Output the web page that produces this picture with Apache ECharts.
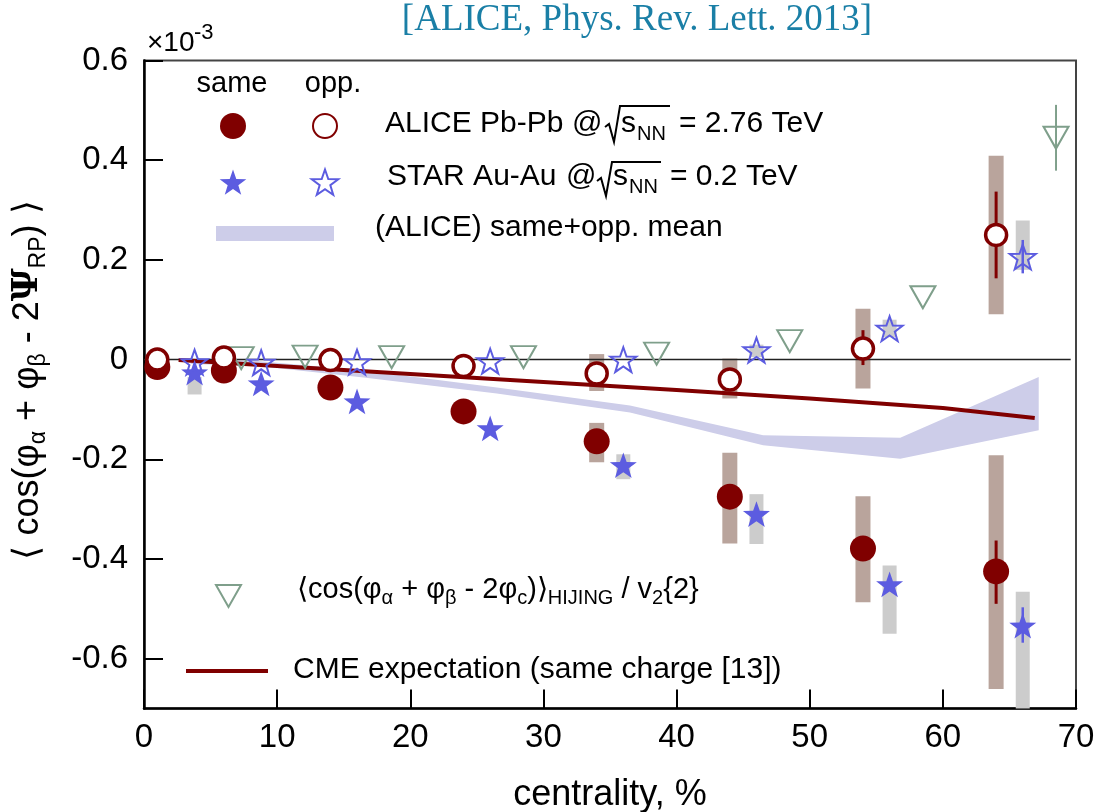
<!DOCTYPE html>
<html><head><meta charset="utf-8">
<script src="https://cdn.jsdelivr.net/npm/echarts@6/dist/echarts.min.js"></script>
<style>html,body{margin:0;padding:0;background:#fff}#c{width:1102px;height:812px}</style>
</head><body><div id="c"></div><script>
// ---------------- data ----------------
const aliceX    = [1, 6, 14, 24, 34, 44, 54, 64];
const aliceSame = [-0.015, -0.022, -0.056, -0.104, -0.164, -0.275, -0.379, -0.425];
const aliceOpp  = [0.000, 0.004, -0.001, -0.013, -0.028, -0.040, 0.022, 0.250];
const starX     = [3.8, 8.8, 16, 26, 36, 46, 56, 66];
const starSame  = [-0.026, -0.048, -0.084, -0.138, -0.212, -0.310, -0.451, -0.534];
const starOpp   = [-0.005, -0.006, -0.005, -0.003, 0.000, 0.019, 0.062, 0.206];
const hijingX   = [7.3, 12.1, 18.6, 28.5, 38.5, 48.5, 58.5, 68.5];
const hijingY   = [0.003, 0.006, 0.005, 0.005, 0.012, 0.037, 0.125, 0.445];
// systematic boxes: [x, low, high]
const aliceSameSys = [[34,-0.206,-0.127],[44,-0.369,-0.187],[54,-0.487,-0.274],[64,-0.661,-0.192]];
const aliceOppSys  = [[34,-0.063,0.011],[44,-0.078,0.002],[54,-0.058,0.102],[64,0.091,0.409]];
const starSameSys  = [[3.8,-0.070,-0.035],[36,-0.240,-0.190],[46,-0.370,-0.270],[56,-0.550,-0.413],[66,-0.740,-0.466]];
const starOppSys   = [[46,0.005,0.030],[56,0.045,0.080],[66,0.180,0.279]];
// statistical error bars: [x, low, high]
const aliceStat  = [[54,-0.011,0.059],[64,0.163,0.337],[64,-0.490,-0.363]];
const starStat   = [[66,-0.568,-0.497],[66,0.173,0.240]];
const hijingStat = [[68.5,0.379,0.511]];
// same+opp mean band
const bandX  = [3.5, 8.5, 16.5, 26.5, 36.5, 46.5, 56.8, 67.2];
const bandLo = [-0.009, -0.013, -0.036, -0.068, -0.106, -0.172, -0.199, -0.142];
const bandHi = [0.001, -0.003, -0.022, -0.056, -0.092, -0.152, -0.157, -0.035];
// CME expectation
const cmeX = [2.6, 10, 20, 30, 40, 50, 60, 66.9];
const cmeY = [-0.001, -0.013, -0.029, -0.045, -0.061, -0.078, -0.097, -0.117];
// axis ticks
const xTickInterval = 10;
const yTicks = [-0.6, -0.4, -0.2, 0, 0.2, 0.4, 0.6];

// ---------------- styling ----------------
const FONT = "'Liberation Sans', Arial, Helvetica, sans-serif";
const RED = '#800000', BLUE = '#5c5ce0', GREEN = '#7f9f8b';
const ASYS = '#b9a49c', SSYS = '#cccccc', BAND = '#cdcde9';
const STAR = 'path://M0,-50 L11.76,-16.18 L47.55,-15.45 L19.02,6.18 L29.39,40.45 L0,20 L-29.39,40.45 L-19.02,6.18 L-47.55,-15.45 L-11.76,-16.18 Z';

const chart = echarts.init(document.getElementById('c'));

function boxSeries(data, color, w, z) {
  return {
    type: 'custom', data: data, silent: true, z: z, animation: false,
    encode: { x: 0, y: [1, 2] },
    renderItem: function (params, api) {
      const x = api.value(0), lo = api.value(1), hi = api.value(2);
      const a = api.coord([x, hi]), b = api.coord([x, lo]);
      const cs = params.coordSys;
      const shape = echarts.graphic.clipRectByRect(
        { x: a[0] - w / 2, y: a[1], width: w, height: b[1] - a[1] },
        { x: cs.x, y: cs.y, width: cs.width, height: cs.height });
      if (!shape) return null;
      return { type: 'rect', shape: shape, style: { fill: color } };
    }
  };
}
function barSeries(data, color, lw, z) {
  return {
    type: 'custom', data: data, silent: true, z: z, animation: false,
    encode: { x: 0, y: [1, 2] },
    renderItem: function (params, api) {
      const x = api.value(0);
      const a = api.coord([x, api.value(2)]), b = api.coord([x, api.value(1)]);
      return { type: 'line', shape: { x1: a[0], y1: a[1], x2: b[0], y2: b[1] }, style: { stroke: color, lineWidth: lw } };
    }
  };
}
function pairs(xs, ys) { return xs.map((x, i) => [x, ys[i]]); }

function starPts(cx, cy, R) {
  const p = [];
  for (let k = 0; k < 10; k++) {
    const ang = (-90 + 36 * k) * Math.PI / 180;
    const r = k % 2 ? R * 0.4 : R;
    p.push([cx + r * Math.cos(ang), cy + r * Math.sin(ang)]);
  }
  return p;
}
function txt(x, y, text, size, extra) {
  return {
    type: 'text', x: x, y: y, z: 100, silent: true,
    style: Object.assign({
      text: text, fill: '#000', fontSize: size, fontFamily: FONT,
      align: 'left', verticalAlign: 'middle', textAlign: 'left', textVerticalAlign: 'middle'
    }, extra || {})
  };
}
const subRich = function (size) {
  return { s: { fontSize: size, fontFamily: FONT, verticalAlign: 'bottom', lineHeight: size } };
};

const graphics = [
  // title
  txt(637, 20, '[ALICE, Phys. Rev. Lett. 2013]', 37,
    { fontFamily: "'Liberation Serif', 'DejaVu Serif', serif", fill: '#1a7fa6', align: 'center', textAlign: 'center' }),
  // x10^-3
  txt(147, 43, '×10', 28),
  txt(194, 33, '-3', 22),
  // axis titles
  txt(610, 795, 'centrality, %', 36, { align: 'center', textAlign: 'center' }),
  {
    type: 'text', x: 28, y: 380, rotation: Math.PI / 2, z: 100, silent: true,
    style: {
      text: '⟨ cos(φ{s|α} + φ{s|β} - 2{psi|Ψ}{s|RP}) ⟩', fill: '#000', fontSize: 36, fontFamily: FONT, lineHeight: 44,
      align: 'center', verticalAlign: 'middle', textAlign: 'center', textVerticalAlign: 'middle',
      rich: {
        s: { fontSize: 23, fontFamily: FONT, verticalAlign: 'bottom', lineHeight: 23 },
        psi: { fontSize: 36, fontFamily: "'DejaVu Serif', 'Liberation Serif', serif", fontWeight: 'bold', lineHeight: 44 }
      }
    }
  },
  // legend header
  txt(232, 84, 'same', 29, { align: 'center', textAlign: 'center' }),
  txt(333, 84, 'opp.', 29, { align: 'center', textAlign: 'center' }),
  // ALICE row
  { type: 'circle', z: 100, shape: { cx: 233, cy: 126, r: 13 }, style: { fill: RED } },
  { type: 'circle', z: 100, shape: { cx: 325, cy: 126, r: 12 }, style: { fill: '#fff', stroke: RED, lineWidth: 2 } },
  txt(385, 123.5, 'ALICE Pb-Pb', 30),
  txt(572, 123.5, '@', 30),
  { type: 'polyline', z: 100, shape: { points: [[605, 127], [609, 124], [614, 142], [620, 106], [670, 106]] }, style: { stroke: '#000', lineWidth: 2, fill: null } },
  txt(621, 123.5, 's', 30),
  txt(637, 134, 'NN', 20),
  txt(679, 123.5, '= 2.76 TeV', 30),
  // STAR row
  { type: 'polygon', z: 100, shape: { points: starPts(233, 183.5, 14) }, style: { fill: BLUE } },
  { type: 'polygon', z: 100, shape: { points: starPts(325, 183.5, 14) }, style: { fill: null, stroke: BLUE, lineWidth: 2 } },
  txt(387, 176.7, 'STAR Au-Au', 30),
  txt(566, 176.7, '@', 30),
  { type: 'polyline', z: 100, shape: { points: [[597, 181], [601, 178], [606, 196], [612, 162], [661, 162]] }, style: { stroke: '#000', lineWidth: 2, fill: null } },
  txt(613, 176.7, 's', 30),
  txt(629, 187, 'NN', 20),
  txt(670, 176.7, '= 0.2 TeV', 30),
  // band row
  { type: 'rect', z: 100, shape: { x: 216, y: 226, width: 118, height: 15 }, style: { fill: BAND } },
  txt(375, 228, '(ALICE) same+opp. mean', 30),
  // HIJING row
  { type: 'polygon', z: 100, shape: { points: [[216, 585], [241, 585], [228.5, 607]] }, style: { fill: null, stroke: GREEN, lineWidth: 2 } },
  txt(297, 590, '⟨cos(φ{s|α} + φ{s|β} - 2φ{s|c})⟩{s|HIJING} / v{s|2}{2}', 29, { rich: subRich(20), lineHeight: 37 }),
  // CME row
  { type: 'line', z: 100, shape: { x1: 186, y1: 671, x2: 268, y2: 671 }, style: { stroke: RED, lineWidth: 4 } },
  txt(293, 670, 'CME expectation (same charge [13])', 30)
];

const option = {
  animation: false,
  backgroundColor: '#fff',
  grid: { left: 144, right: 26, top: 60.5, bottom: 103.5, show: true, borderColor: '#444', borderWidth: 2,
          backgroundColor: 'transparent', containLabel: false, outerBoundsMode: 'none' },
  xAxis: {
    type: 'value', min: 0, max: 70, interval: xTickInterval,
    axisLine: { show: true, onZero: false, lineStyle: { color: '#000', width: 2.5 } },
    axisTick: { show: true, inside: true, length: 19, lineStyle: { color: '#000', width: 2 } },
    axisLabel: { color: '#000', fontSize: 33, fontFamily: FONT, margin: 13 },
    splitLine: { show: false }
  },
  yAxis: {
    type: 'value', min: -0.7, max: 0.6,
    axisLine: { show: true, onZero: false, lineStyle: { color: '#000', width: 2.5 } },
    axisTick: { show: true, inside: true, length: 19, lineStyle: { color: '#000', width: 2 }, customValues: yTicks },
    axisLabel: { color: '#000', fontSize: 33, fontFamily: FONT, margin: 16, customValues: yTicks,
      formatter: function (v) { return Math.abs(v) < 1e-9 ? '0' : v.toFixed(1); } },
    splitLine: { show: false }
  },
  graphic: graphics,
  series: [
    {
      type: 'custom', silent: true, z: 1, animation: false,
      data: bandX.map((x, i) => [x, bandLo[i], bandHi[i]]),
      encode: { x: 0, y: [1, 2] },
      renderItem: function (params, api) {
        if (params.dataIndex !== 0) return null;
        const pts = [];
        for (let i = 0; i < bandX.length; i++) pts.push(api.coord([bandX[i], bandHi[i]]));
        for (let i = bandX.length - 1; i >= 0; i--) pts.push(api.coord([bandX[i], bandLo[i]]));
        return { type: 'polygon', shape: { points: pts }, style: { fill: BAND } };
      }
    },
    boxSeries(aliceSameSys, ASYS, 15, 1),
    boxSeries(aliceOppSys, ASYS, 15, 1),
    boxSeries(starSameSys, SSYS, 14, 1),
    boxSeries(starOppSys, SSYS, 14, 1),
    { type: 'line', data: [[0, 0], [69.6, 0]], symbol: 'none', silent: true, z: 2,
      lineStyle: { color: '#222', width: 1.5 } },
    { type: 'line', data: pairs(cmeX, cmeY), symbol: 'none', silent: true, z: 3,
      lineStyle: { color: RED, width: 4 } },
    barSeries(hijingStat, GREEN, 2, 4),
    { type: 'scatter', data: pairs(hijingX, hijingY), symbol: 'triangle', symbolRotate: 180, symbolSize: [25, 22],
      silent: true, z: 4, itemStyle: { color: 'rgba(0,0,0,0)', borderColor: GREEN, borderWidth: 2, opacity: 1 } },
    barSeries(starStat, BLUE, 2.5, 5),
    { type: 'scatter', data: pairs(starX, starSame), symbol: STAR, symbolKeepAspect: true, symbolSize: 27,
      silent: true, z: 5, itemStyle: { color: BLUE, opacity: 1 } },
    { type: 'scatter', data: pairs(starX, starOpp), symbol: STAR, symbolKeepAspect: true, symbolSize: 26,
      silent: true, z: 5, itemStyle: { color: 'rgba(255,255,255,0)', borderColor: BLUE, borderWidth: 2, opacity: 1 } },
    barSeries(aliceStat, RED, 3, 6),
    { type: 'scatter', data: pairs(aliceX, aliceSame), symbol: 'circle', symbolSize: 26,
      silent: true, z: 7, itemStyle: { color: RED, opacity: 1 } },
    { type: 'scatter', data: pairs(aliceX, aliceOpp), symbol: 'circle', symbolSize: 21,
      silent: true, z: 7, itemStyle: { color: '#fff', borderColor: RED, borderWidth: 3.5, opacity: 1 } }
  ]
};
chart.setOption(option);
</script></body></html>
